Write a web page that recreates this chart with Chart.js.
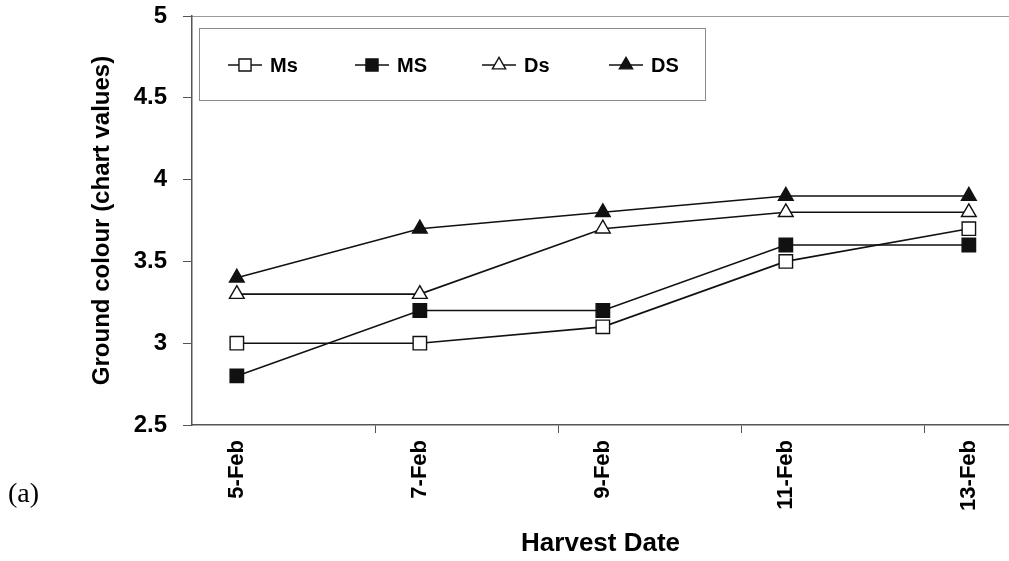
<!DOCTYPE html>
<html>
<head>
<meta charset="utf-8">
<title>Ground colour by harvest date</title>
<script src="https://cdn.jsdelivr.net/npm/chart.js@4/dist/chart.umd.min.js"></script>
<style>
  html, body { margin: 0; padding: 0; background: #ffffff; overflow: hidden; }
  /* the plot frame runs off the right edge of the panel */
  #wrap { position: relative; width: 1009px; height: 561px; overflow: hidden; }
  canvas { display: block; }
</style>
</head>
<body>
<div id="wrap"><canvas id="chart" width="1020" height="561"></canvas></div>
<script>
// Harvest dates (category axis)
const categories = ['5-Feb', '7-Feb', '9-Feb', '11-Feb', '13-Feb'];

// Ground colour readings per treatment
const msValues = [3.0, 3.0, 3.1, 3.5, 3.7];   // Ms
const MSValues = [2.8, 3.2, 3.2, 3.6, 3.6];   // MS
const dsValues = [3.3, 3.3, 3.7, 3.8, 3.8];   // Ds
const DSValues = [3.4, 3.7, 3.8, 3.9, 3.9];   // DS

// Value axis range
const yMin = 2.5;
const yMax = 5;
const yStep = 0.5;

const seriesNames = ['Ms', 'MS', 'Ds', 'DS'];

// Room on either side of the first/last date, in category units
const xPadLeft = 0.245;
const xPadRight = 0.22;

const FONT = '"Liberation Sans", Arial, Helvetica, sans-serif';
const INK = '#111111';
const AXIS = '#555555';

const toPoints = vals => vals.map((v, i) => ({ x: i, y: v }));
const isWhole = v => Math.abs(v - Math.round(v)) < 1e-6;

function series(label, values, style, filled, radius) {
  return {
    label: label,
    data: toPoints(values),
    borderColor: INK,
    borderWidth: 1.6,
    backgroundColor: filled ? INK : '#ffffff',
    pointStyle: style,
    pointRadius: radius,
    pointHoverRadius: radius,
    pointBackgroundColor: filled ? INK : '#ffffff',
    pointBorderColor: INK,
    pointBorderWidth: 1.4,
    tension: 0,
    fill: false
  };
}

// Keep the plot frame exactly where the axes are sized, without label overhang padding
function noOverhang(scale) {
  scale.paddingLeft = 0;
  scale.paddingRight = 0;
  scale.paddingTop = 0;
  scale.paddingBottom = 0;
}

// Boxed legend on the plot, plus the panel letter
const panelDecor = {
  id: 'panelDecor',
  afterDraw(chart) {
    const ctx = chart.ctx;
    ctx.save();

    // legend frame
    const box = { left: 199, top: 28, right: 705, bottom: 100 };
    ctx.strokeStyle = '#8a8a8a';
    ctx.lineWidth = 1;
    ctx.strokeRect(box.left + 0.5, box.top + 0.5, box.right - box.left, box.bottom - box.top);

    const firstX = box.left + 46;
    const slot = 127;
    const cy = 65;
    chart.data.datasets.forEach((ds, i) => {
      const cx = firstX + i * slot;
      ctx.strokeStyle = ds.borderColor;
      ctx.lineWidth = ds.borderWidth;
      ctx.beginPath();
      ctx.moveTo(cx - 17, cy);
      ctx.lineTo(cx + 17, cy);
      ctx.stroke();

      ctx.fillStyle = ds.pointBackgroundColor;
      ctx.strokeStyle = ds.pointBorderColor;
      ctx.lineWidth = ds.pointBorderWidth;
      const opts = {
        pointStyle: ds.pointStyle,
        radius: ds.pointRadius * 0.9,
        rotation: 0,
        borderWidth: ds.pointBorderWidth
      };
      if (Chart.helpers && Chart.helpers.drawPoint) {
        Chart.helpers.drawPoint(ctx, opts, cx, cy);
      }

      ctx.fillStyle = '#000000';
      ctx.font = 'bold 20px ' + FONT;
      ctx.textAlign = 'left';
      ctx.textBaseline = 'middle';
      ctx.fillText(ds.label, cx + 25, cy + 1);
    });

    // panel letter
    ctx.fillStyle = '#000000';
    ctx.font = '28px "Liberation Serif", "Times New Roman", serif';
    ctx.textAlign = 'left';
    ctx.textBaseline = 'alphabetic';
    ctx.fillText('(a)', 8, 502);

    ctx.restore();
  }
};

const data = {
  datasets: [
    series(seriesNames[0], msValues, 'rect', false, 9.5),
    series(seriesNames[1], MSValues, 'rect', true, 9.5),
    series(seriesNames[2], dsValues, 'triangle', false, 8.5),
    series(seriesNames[3], DSValues, 'triangle', true, 8.5)
  ]
};

new Chart(document.getElementById('chart'), {
  type: 'line',
  data: data,
  plugins: [panelDecor],
  options: {
    responsive: false,
    animation: false,
    devicePixelRatio: 1,
    layout: { padding: { top: 16, left: 0, right: 0, bottom: 0 } },
    plugins: {
      legend: { display: false },
      tooltip: { enabled: false },
      title: { display: false }
    },
    scales: {
      x: {
        type: 'linear',
        position: 'bottom',
        min: -xPadLeft,
        max: categories.length - 1 + xPadRight,
        afterBuildTicks(scale) {
          const ticks = [];
          categories.forEach((c, i) => {
            ticks.push({ value: i });
            if (i > 0) ticks.push({ value: i - xPadLeft });
          });
          ticks.sort((a, b) => a.value - b.value);
          scale.ticks = ticks;
        },
        afterFit(scale) { scale.height = 136; noOverhang(scale); },
        ticks: {
          autoSkip: false,
          minRotation: 90,
          maxRotation: 90,
          padding: 7,
          color: '#000000',
          font: { family: FONT, size: 22, weight: 'bold' },
          callback: v => (isWhole(v) ? categories[Math.round(v)] : '')
        },
        grid: {
          drawOnChartArea: false,
          drawTicks: true,
          tickLength: 8,
          lineWidth: 1,
          color: c => (c.tick && isWhole(c.tick.value) ? 'rgba(0,0,0,0)' : AXIS)
        },
        border: { display: true, color: AXIS, width: 1.5 },
        title: {
          display: true,
          text: 'Harvest Date',
          color: '#000000',
          font: { family: FONT, size: 26, weight: 'bold' },
          padding: { top: 0, bottom: 2 }
        }
      },
      xTop: {
        type: 'linear',
        position: 'top',
        display: true,
        min: -xPadLeft,
        max: categories.length - 1 + xPadRight,
        afterFit(scale) { scale.height = 0; noOverhang(scale); },
        ticks: { display: false },
        grid: { display: false, drawTicks: false },
        border: { display: true, color: '#9a9a9a', width: 1, dash: [1, 1] }
      },
      y: {
        type: 'linear',
        position: 'left',
        min: yMin,
        max: yMax,
        afterFit(scale) { scale.width = 192; noOverhang(scale); },
        ticks: {
          stepSize: yStep,
          padding: 16,
          color: '#000000',
          font: { family: FONT, size: 24, weight: 'bold' },
          callback: v => String(Number(v))
        },
        grid: {
          drawOnChartArea: false,
          drawTicks: true,
          tickLength: 9,
          color: AXIS,
          lineWidth: 1
        },
        border: { display: true, color: AXIS, width: 1.5 },
        title: {
          display: true,
          text: 'Ground colour (chart values)',
          color: '#000000',
          font: { family: FONT, size: 24, weight: 'bold' },
          padding: { top: 88, bottom: 0 }
        }
      }
    }
  }
});
</script>
</body>
</html>
